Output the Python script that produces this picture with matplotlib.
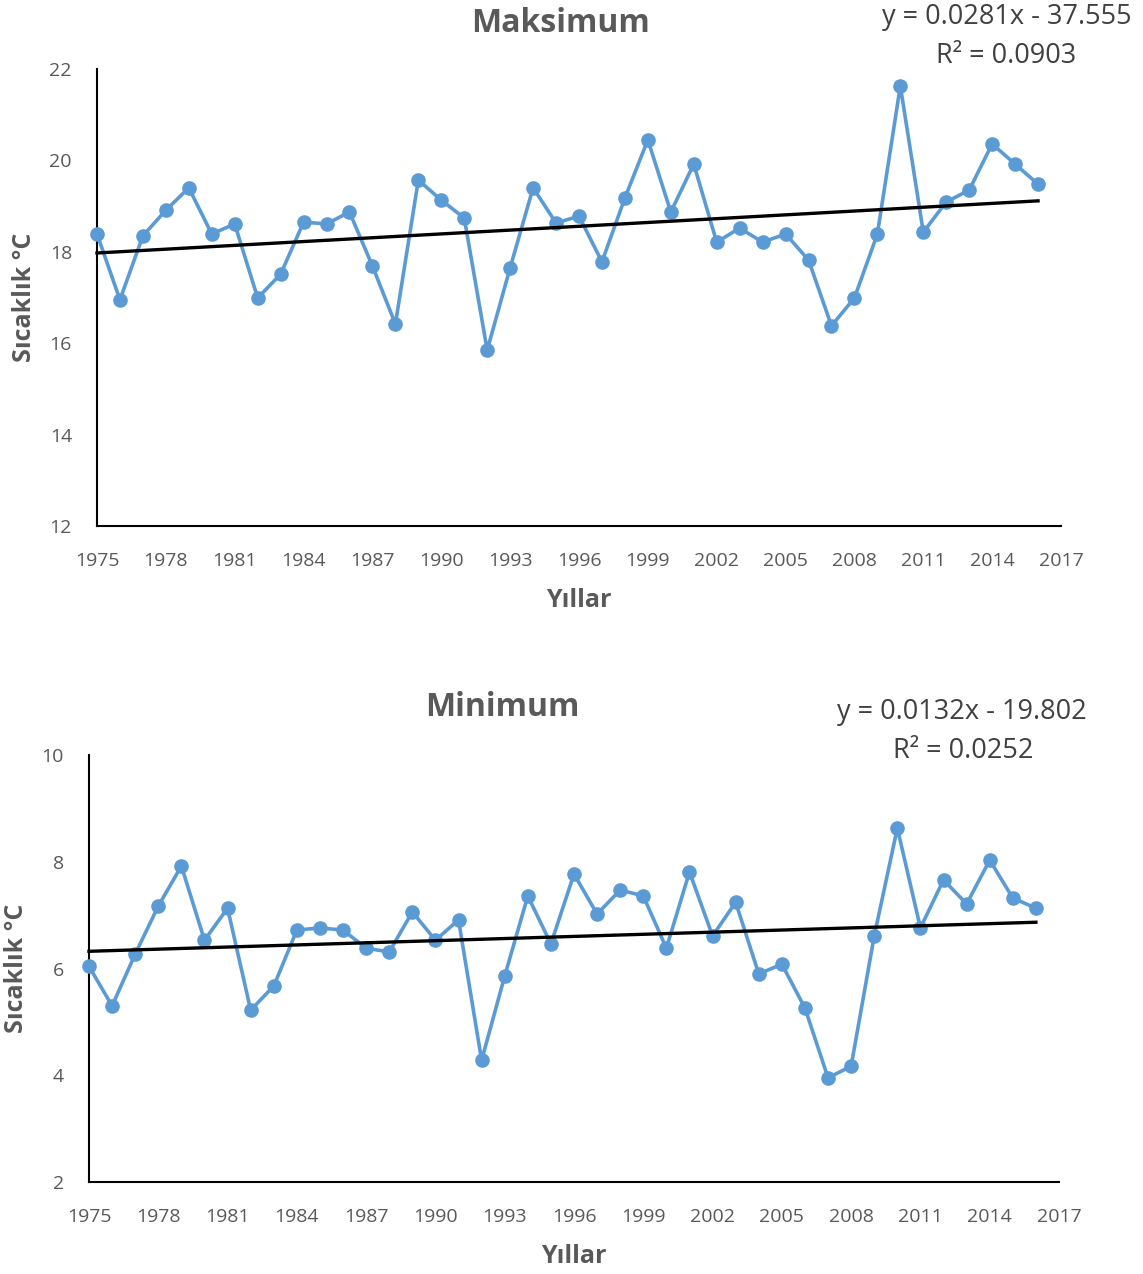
import numpy as np
import matplotlib
matplotlib.use('Agg')
import matplotlib.pyplot as plt

plt.rcParams['font.family'] = ['Open Sans', 'DejaVu Sans']

YEARS = list(range(1975, 2017))

MAX_TEMP = [
    18.39, 16.95, 18.35, 18.91, 19.40, 18.39, 18.61, 16.99, 17.51, 18.65,
    18.61, 18.87, 17.69, 16.42, 19.57, 19.13, 18.74, 15.85, 17.65, 19.40,
    18.63, 18.78, 17.78, 19.18, 20.45, 18.87, 19.92, 18.21, 18.52, 18.21,
    18.39, 17.82, 16.38, 16.99, 18.39, 21.63, 18.43, 19.09, 19.35, 20.36,
    19.92, 19.48,
]

MIN_TEMP = [
    6.04, 5.30, 6.27, 7.17, 7.92, 6.53, 7.13, 5.22, 5.67, 6.72,
    6.76, 6.72, 6.38, 6.31, 7.06, 6.53, 6.91, 4.28, 5.86, 7.36,
    6.46, 7.77, 7.02, 7.47, 7.36, 6.38, 7.81, 6.61, 7.24, 5.90,
    6.08, 5.26, 3.95, 4.17, 6.61, 8.63, 6.76, 7.66, 7.21, 8.03,
    7.32, 7.13,
]

X_TICKS = list(range(1975, 2018, 3))

LINE_COLOR = '#5B9BD5'
TEXT_COLOR = '#595959'


def draw_panel(ax, values, ylim, yticks):
    ax.plot(YEARS, values, color=LINE_COLOR, lw=2.6, marker='o',
            markersize=9.5, zorder=3, clip_on=False)
    coef = np.polyfit(YEARS, values, 1)
    fit_x = np.array([YEARS[0], YEARS[-1]])
    ax.plot(fit_x, np.polyval(coef, fit_x), color='black', lw=2.4, zorder=4,
            clip_on=False)

    ax.set_xlim(1975, 2017)
    ax.set_ylim(*ylim)
    ax.set_xticks(X_TICKS)
    ax.set_yticks(yticks)
    ax.tick_params(axis='x', length=0, labelsize=14, labelcolor=TEXT_COLOR, pad=19)
    ax.tick_params(axis='y', length=0, labelsize=14, labelcolor=TEXT_COLOR, pad=18)
    for s in ('top', 'right'):
        ax.spines[s].set_visible(False)
    for s in ('left', 'bottom'):
        ax.spines[s].set_color('black')
        ax.spines[s].set_linewidth(1.5)
    ax.set_xlabel('Yıllar', fontsize=18, fontweight='bold', color=TEXT_COLOR,
                  labelpad=13)
    ax.set_ylabel('Sıcaklık °C', fontsize=18, fontweight='bold',
                  color=TEXT_COLOR, labelpad=9)


fig = plt.figure(figsize=(11.43, 12.74), dpi=100)

ax1 = fig.add_axes([97 / 1143, 1 - 526 / 1274, 964 / 1143, 457 / 1274])
draw_panel(ax1, MAX_TEMP, (12, 22), range(12, 23, 2))

ax2 = fig.add_axes([89 / 1143, 1 - 1182 / 1274, 970 / 1143, 427 / 1274])
draw_panel(ax2, MIN_TEMP, (2, 10), range(2, 11, 2))

fig.text(560 / 1143, 1 - 24 / 1274, 'Maksimum', ha='center', va='center',
         fontsize=23, fontweight='bold', color=TEXT_COLOR)
fig.text(1007 / 1143, 1 - 17 / 1274, 'y = 0.0281x - 37.555', ha='center',
         va='center', fontsize=19.5, color='#404040')
fig.text(1006 / 1143, 1 - 56 / 1274, 'R² = 0.0903', ha='center',
         va='center', fontsize=19.5, color='#404040')

fig.text(502 / 1143, 1 - 708 / 1274, 'Minimum', ha='center', va='center',
         fontsize=23, fontweight='bold', color=TEXT_COLOR)
fig.text(962 / 1143, 1 - 712 / 1274, 'y = 0.0132x - 19.802', ha='center',
         va='center', fontsize=19.5, color='#404040')
fig.text(963 / 1143, 1 - 751 / 1274, 'R² = 0.0252', ha='center',
         va='center', fontsize=19.5, color='#404040')

fig.savefig('out.png', dpi=100)
